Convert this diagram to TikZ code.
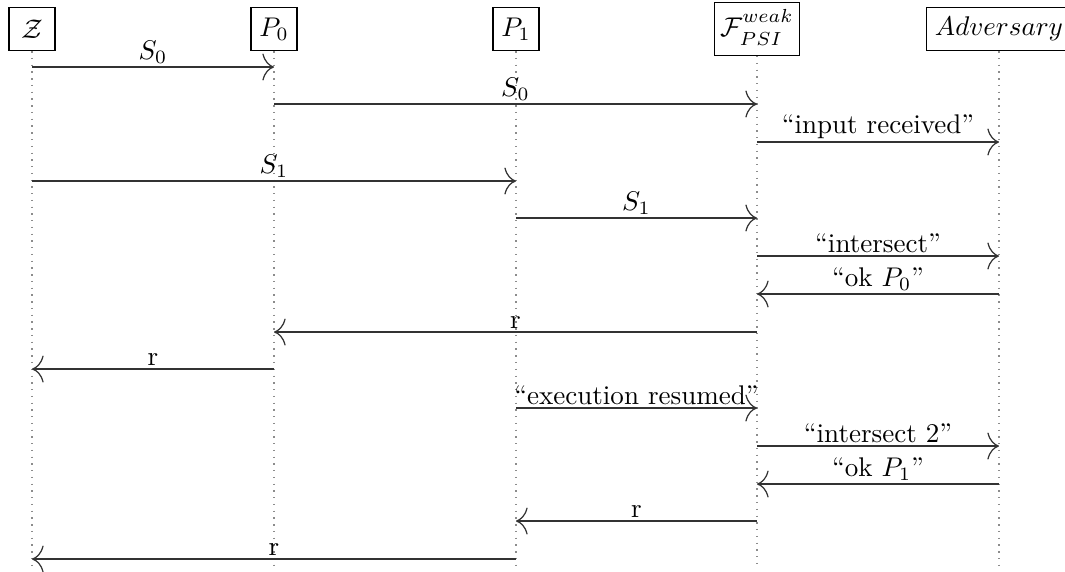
\documentclass[tikz,border=0pt]{standalone}
\usepackage{amsmath,amssymb}
\usetikzlibrary{arrows.meta, positioning, calc}
\definecolor{lifegray}{HTML}{8C8C8C}
\definecolor{msgline}{HTML}{333333}
\tikzset{
  actor/.style={draw, inner sep=3pt, minimum height=16pt, minimum width=17pt},
  lifeline/.style={dotted, lifegray, line width=0.5pt},
  msg/.style={-{To[length=4.3pt,width=10pt]}, msgline, line width=0.45pt},
  lbl/.style={above, inner sep=1pt, text=black}
}

\begin{document}
\begin{tikzpicture}[x=0.37pt, y=-0.37pt]
  \useasboundingbox (0,0) rectangle (1065,571);
  % Parties
  \node[actor] (Z)   at (32,29)  {$\mathcal{Z}$};
  \node[actor] (P0)  at (274,29) {$P_0$};
  \node[actor] (P1)  at (516,29) {$P_1$};
  \node[actor, inner sep=2pt] (F) at (757,29) {$\mathcal{F}^{\mathstrut weak}_{\mathstrut PSI}$};
  \node[actor] (Adv) at (999,29) {$Adversary$};
  % Rows of the messages
  \coordinate (r1) at (0,67);   \coordinate (r2) at (0,104);
  \coordinate (r3) at (0,142);  \coordinate (r4) at (0,181);
  \coordinate (r5) at (0,218);  \coordinate (r6) at (0,256);
  \coordinate (r7) at (0,294);  \coordinate (r8) at (0,332);
  \coordinate (r9) at (0,369);  \coordinate (r10) at (0,408);
  \coordinate (r11) at (0,446); \coordinate (r12) at (0,484);
  \coordinate (r13) at (0,521); \coordinate (r14) at (0,559);
  \coordinate (bot) at (0,566);
  % Lifelines
  \foreach \p in {Z,P0,P1,F,Adv}
    \draw[lifeline] (\p.south) -- (\p |- bot);
  % Inputs
  \draw[msg] (Z |- r1) -- node[lbl] {$S_0$} (P0 |- r1);
  \draw[msg] (P0 |- r2) -- node[lbl] {$S_0$} (F |- r2);
  \draw[msg] (F |- r3) -- node[lbl] {``input received''} (Adv |- r3);
  \draw[msg] (Z |- r4) -- node[lbl] {$S_1$} (P1 |- r4);
  \draw[msg] (P1 |- r5) -- node[lbl] {$S_1$} (F |- r5);
  % First intersection
  \draw[msg] (F |- r6) -- node[lbl] {``intersect''} (Adv |- r6);
  \draw[msg] (Adv |- r7) -- node[lbl] {``ok $P_0$''} (F |- r7);
  \draw[msg] (F |- r8) -- node[lbl] {r} (P0 |- r8);
  \draw[msg] (P0 |- r9) -- node[lbl] {r} (Z |- r9);
  % Second intersection
  \draw[msg] (P1 |- r10) -- node[lbl] {``execution resumed''} (F |- r10);
  \draw[msg] (F |- r11) -- node[lbl] {``intersect 2''} (Adv |- r11);
  \draw[msg] (Adv |- r12) -- node[lbl] {``ok $P_1$''} (F |- r12);
  \draw[msg] (F |- r13) -- node[lbl] {r} (P1 |- r13);
  \draw[msg] (P1 |- r14) -- node[lbl] {r} (Z |- r14);
\end{tikzpicture}
\end{document}
